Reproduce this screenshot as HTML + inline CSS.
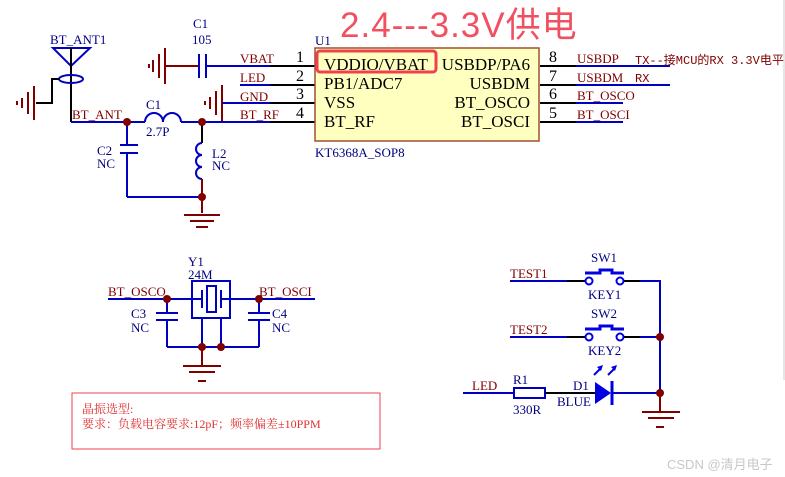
<!DOCTYPE html>
<html><head><meta charset="utf-8"><style>
html,body{margin:0;padding:0;background:#fff;width:785px;height:477px;overflow:hidden}
svg{display:block}
text{font-family:"Liberation Serif","Noto Serif CJK SC",serif}
.b{stroke:#0000c0;stroke-width:2;fill:none}
.k{stroke:#000;stroke-width:2;fill:none}
.r{stroke:#800000;stroke-width:2;fill:none}
.lb{fill:#000080;font-size:13px}
.lr{fill:#800000;font-size:13px}
.pn{fill:#000;font-size:16px}
.pl{fill:#000;font-size:17px}
</style></head><body>
<svg width="785" height="477" viewBox="0 0 785 477">
<!-- antenna -->
<text class="lb" x="50" y="44">BT_ANT1</text>
<polygon points="53,48 90,48 71,66" class="b"/>
<line x1="71" y1="48" x2="71" y2="122" class="k"/>
<ellipse cx="71" cy="79" rx="12" ry="4" class="b"/>
<polyline points="59,79 52,79 52,103 36,103" class="k"/>
<line x1="34" y1="86" x2="34" y2="120" class="r"/>
<line x1="28" y1="92" x2="28" y2="114" class="r"/>
<line x1="22" y1="98" x2="22" y2="108" class="r"/>
<line x1="17" y1="101" x2="17" y2="105" class="r"/>
<!-- BT_ANT net -->
<line x1="71" y1="122" x2="145" y2="122" class="b"/>
<text class="lr" x="72" y="119">BT_ANT</text>
<path d="M145,122 a9,9 0 0 1 18,0 a9,9 0 0 1 18,0" class="b"/>
<line x1="181" y1="122" x2="315" y2="122" class="b"/>
<text class="lb" x="146" y="109">C1</text>
<text class="lb" x="146" y="136">2.7P</text>
<!-- C2 -->
<line x1="127" y1="122" x2="127" y2="145" class="b"/>
<line x1="120" y1="145" x2="138" y2="145" class="b"/>
<line x1="120" y1="153" x2="138" y2="153" class="b"/>
<line x1="127" y1="153" x2="127" y2="197" class="b"/>
<line x1="127" y1="197" x2="202" y2="197" class="b"/>
<text class="lb" x="97" y="155">C2</text>
<text class="lb" x="97" y="168">NC</text>
<!-- L2 -->
<line x1="202" y1="122" x2="202" y2="143" class="k"/>
<path d="M202,143 a6,6 0 0 0 0,12 a6,6 0 0 0 0,12 a6,6 0 0 0 0,12" class="b"/>
<line x1="202" y1="179" x2="202" y2="213" class="r"/>
<text class="lb" x="212" y="158">L2</text>
<text class="lb" x="212" y="170">NC</text>
<line x1="184" y1="215" x2="220" y2="215" class="r"/>
<line x1="190" y1="221" x2="214" y2="221" class="r"/>
<line x1="196" y1="227" x2="208" y2="227" class="r"/>
<circle cx="127" cy="122" r="4" fill="#800000"/>
<circle cx="202" cy="122" r="4" fill="#800000"/>
<circle cx="202" cy="197" r="4" fill="#800000"/>
<!-- C1 105 -->
<text class="lb" x="193" y="28">C1</text>
<text class="lb" x="192" y="44">105</text>
<line x1="165" y1="48" x2="165" y2="84" class="r"/>
<line x1="159" y1="54" x2="159" y2="78" class="r"/>
<line x1="153" y1="60" x2="153" y2="72" class="r"/>
<line x1="149" y1="64" x2="149" y2="68" class="r"/>
<line x1="165" y1="66" x2="198" y2="66" class="r"/>
<line x1="199" y1="54" x2="199" y2="78" class="b"/>
<line x1="206" y1="54" x2="206" y2="78" class="b"/>
<line x1="206" y1="66" x2="315" y2="66" class="b"/>
<text class="lr" x="240" y="63">VBAT</text>
<line x1="240" y1="85" x2="315" y2="85" class="b"/>
<text class="lr" x="240" y="82">LED</text>
<line x1="222" y1="85" x2="222" y2="121" class="r"/>
<line x1="216" y1="91" x2="216" y2="115" class="r"/>
<line x1="210" y1="97" x2="210" y2="109" class="r"/>
<line x1="205" y1="101" x2="205" y2="105" class="r"/>
<line x1="222" y1="103" x2="315" y2="103" class="b"/>
<text class="lr" x="240" y="101">GND</text>
<text class="lr" x="240" y="119">BT_RF</text>
<line x1="270" y1="66" x2="315" y2="66" class="k"/>
<line x1="270" y1="85" x2="315" y2="85" class="k"/>
<line x1="270" y1="103" x2="315" y2="103" class="k"/>
<line x1="270" y1="122" x2="315" y2="122" class="k"/>
<text class="pn" x="296" y="62">1</text>
<text class="pn" x="296" y="81">2</text>
<text class="pn" x="296" y="99">3</text>
<text class="pn" x="296" y="118">4</text>
<!-- U1 -->
<text class="lb" x="315" y="45">U1</text>
<rect x="315" y="48" width="224" height="93" fill="#ffffc0" stroke="#a05030" stroke-width="1.5"/>
<rect x="317" y="51" width="119" height="21" rx="3" fill="none" stroke="#f04050" stroke-width="3"/>
<text class="pl" x="324" y="70">VDDIO/VBAT</text>
<text class="pl" x="324" y="89">PB1/ADC7</text>
<text class="pl" x="324" y="108">VSS</text>
<text class="pl" x="324" y="127">BT_RF</text>
<text class="pl" x="530" y="70" text-anchor="end">USBDP/PA6</text>
<text class="pl" x="530" y="89" text-anchor="end">USBDM</text>
<text class="pl" x="530" y="108" text-anchor="end">BT_OSCO</text>
<text class="pl" x="530" y="127" text-anchor="end">BT_OSCI</text>
<text class="lb" x="315" y="157">KT6368A_SOP8</text>
<text x="340" y="37" fill="#f05060" font-size="35" letter-spacing="1" style="font-family:'Liberation Sans','Noto Sans CJK SC',sans-serif">2.4---3.3V供电</text>
<!-- right pins -->
<line x1="540" y1="66" x2="576" y2="66" class="k"/>
<line x1="540" y1="85" x2="576" y2="85" class="k"/>
<line x1="540" y1="103" x2="576" y2="103" class="k"/>
<line x1="540" y1="122" x2="576" y2="122" class="k"/>
<line x1="576" y1="66" x2="670" y2="66" class="b"/>
<line x1="576" y1="85" x2="670" y2="85" class="b"/>
<line x1="576" y1="103" x2="623" y2="103" class="b"/>
<line x1="576" y1="122" x2="623" y2="122" class="b"/>
<text class="pn" x="549" y="62">8</text>
<text class="pn" x="549" y="81">7</text>
<text class="pn" x="549" y="99">6</text>
<text class="pn" x="549" y="118">5</text>
<text class="lr" x="577" y="63">USBDP</text>
<text class="lr" x="577" y="82">USBDM</text>
<text class="lr" x="577" y="100">BT_OSCO</text>
<text class="lr" x="577" y="119">BT_OSCI</text>
<text x="635" y="64" fill="#800000" font-size="12" style="font-family:'Liberation Mono','Noto Sans CJK SC',monospace">TX--接MCU的RX 3.3V电平</text>
<text x="635" y="82" fill="#800000" font-size="12" style="font-family:'Liberation Mono',monospace">RX</text>
<!-- crystal -->
<text class="lb" x="188" y="266">Y1</text>
<text class="lb" x="188" y="279">24M</text>
<line x1="108" y1="299" x2="192" y2="299" class="b"/>
<line x1="230" y1="299" x2="315" y2="299" class="b"/>
<text class="lr" x="108" y="296">BT_OSCO</text>
<text class="lr" x="259" y="296">BT_OSCI</text>
<rect x="192" y="281" width="38" height="37" class="b"/>
<line x1="192" y1="299" x2="202" y2="299" class="b"/>
<line x1="221" y1="299" x2="230" y2="299" class="b"/>
<line x1="202" y1="290" x2="202" y2="308" class="b"/>
<line x1="221" y1="290" x2="221" y2="308" class="b"/>
<rect x="207" y="286" width="9" height="26" class="b"/>
<line x1="167" y1="299" x2="167" y2="313" class="b"/>
<line x1="156" y1="313" x2="178" y2="313" class="b"/>
<line x1="156" y1="320" x2="178" y2="320" class="b"/>
<line x1="167" y1="320" x2="167" y2="347" class="b"/>
<line x1="259" y1="299" x2="259" y2="313" class="b"/>
<line x1="248" y1="313" x2="270" y2="313" class="b"/>
<line x1="248" y1="320" x2="270" y2="320" class="b"/>
<line x1="259" y1="320" x2="259" y2="347" class="b"/>
<line x1="167" y1="347" x2="259" y2="347" class="b"/>
<line x1="202" y1="318" x2="202" y2="347" class="b"/>
<line x1="221" y1="318" x2="221" y2="347" class="b"/>
<text class="lb" x="131" y="318">C3</text>
<text class="lb" x="131" y="332">NC</text>
<text class="lb" x="272" y="318">C4</text>
<text class="lb" x="272" y="332">NC</text>
<line x1="202" y1="347" x2="202" y2="365" class="r"/>
<line x1="183" y1="366" x2="221" y2="366" class="r"/>
<line x1="189" y1="372" x2="215" y2="372" class="r"/>
<line x1="198" y1="381" x2="206" y2="381" class="r"/>
<circle cx="167" cy="299" r="4" fill="#800000"/>
<circle cx="259" cy="299" r="4" fill="#800000"/>
<circle cx="202" cy="347" r="4" fill="#800000"/>
<circle cx="221" cy="347" r="4" fill="#800000"/>
<!-- note box -->
<rect x="72" y="393" width="308" height="56" fill="none" stroke="#f04050" stroke-width="1"/>
<text x="82" y="413" fill="#e03030" font-size="12">晶振选型:</text>
<text x="82" y="428" fill="#e03030" font-size="12">要求：负载电容要求:12pF；频率偏差±10PPM</text>
<!-- switches -->
<text class="lr" x="510" y="278">TEST1</text>
<text class="lr" x="510" y="334">TEST2</text>
<line x1="510" y1="281" x2="585" y2="281" class="b"/>
<line x1="510" y1="337" x2="585" y2="337" class="b"/>
<line x1="567" y1="281" x2="585" y2="281" class="k"/>
<line x1="567" y1="337" x2="585" y2="337" class="k"/>
<circle cx="589" cy="281" r="3.5" fill="#fff" stroke="#0000e0" stroke-width="2"/>
<circle cx="620" cy="281" r="3.5" fill="#fff" stroke="#0000e0" stroke-width="2"/>
<circle cx="589" cy="337" r="3.5" fill="#fff" stroke="#0000e0" stroke-width="2"/>
<circle cx="620" cy="337" r="3.5" fill="#fff" stroke="#0000e0" stroke-width="2"/>
<polyline points="585,273 600,273 600,270 612,270 612,273 624,273" fill="none" stroke="#0000e0" stroke-width="3"/>
<polyline points="585,329 600,329 600,326 612,326 612,329 624,329" fill="none" stroke="#0000e0" stroke-width="3"/>
<text class="lb" x="591" y="262">SW1</text>
<text class="lb" x="591" y="318">SW2</text>
<text class="lb" x="588" y="299">KEY1</text>
<text class="lb" x="588" y="355">KEY2</text>
<line x1="624" y1="281" x2="660" y2="281" class="k"/>
<line x1="624" y1="337" x2="660" y2="337" class="k"/>
<polyline points="640,281 660,281 660,393" class="b"/>
<line x1="640" y1="337" x2="660" y2="337" class="b"/>
<!-- LED -->
<text class="lr" x="472" y="390">LED</text>
<line x1="463" y1="393" x2="514" y2="393" class="b"/>
<rect x="514" y="388" width="31" height="10" class="b"/>
<text class="lb" x="513" y="384">R1</text>
<text class="lb" x="513" y="414">330R</text>
<line x1="545" y1="393" x2="595" y2="393" class="k"/>
<polygon points="595,382 595,404 611,393" fill="#0000e0"/>
<line x1="612" y1="381" x2="612" y2="405" stroke="#0000e0" stroke-width="3"/>
<line x1="594" y1="375" x2="601" y2="368" stroke="#0000e0" stroke-width="2"/>
<polygon points="603,365 597,367 601,371" fill="#0000e0"/>
<line x1="608" y1="375" x2="615" y2="368" stroke="#0000e0" stroke-width="2"/>
<polygon points="617,365 611,367 615,371" fill="#0000e0"/>
<text class="lb" x="573" y="390">D1</text>
<text class="lb" x="557" y="406">BLUE</text>
<line x1="612" y1="393" x2="660" y2="393" class="b"/>
<line x1="660" y1="393" x2="660" y2="411" class="r"/>
<line x1="642" y1="412" x2="680" y2="412" class="r"/>
<line x1="648" y1="418" x2="674" y2="418" class="r"/>
<line x1="656" y1="427" x2="664" y2="427" class="r"/>
<circle cx="660" cy="337" r="4" fill="#800000"/>
<circle cx="660" cy="393" r="4" fill="#800000"/>
<text x="667" y="469" fill="#c8c8c8" font-size="13" style="font-family:'Liberation Sans','Noto Sans CJK SC',sans-serif">CSDN @清月电子</text>
<line x1="784" y1="0" x2="784" y2="380" stroke="#ccc" stroke-width="1"/>
</svg>
</body></html>
